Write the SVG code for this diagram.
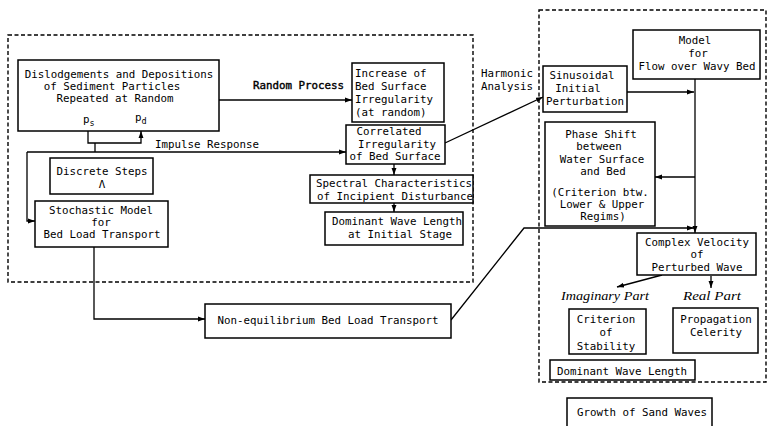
<svg xmlns="http://www.w3.org/2000/svg" width="769" height="426" viewBox="0 0 769 426">
<defs>
<marker id="ah" viewBox="0 0 10 10" refX="10" refY="5" markerWidth="7" markerHeight="7" orient="auto" markerUnits="userSpaceOnUse"><path d="M0,1.5 L10,5 L0,8.5z" fill="#000"/></marker>
<style>
.box{fill:#fff;stroke:#000;stroke-width:1.5}
.dash{fill:none;stroke:#000;stroke-width:1.4;stroke-dasharray:4 2.5}
.c{fill:none;stroke:#000;stroke-width:1.3}
.a{marker-end:url(#ah)}
text{font-family:"DejaVu Sans Mono","Liberation Mono",monospace;font-size:10.8px;fill:#000}
.m{text-anchor:middle}
.it{font-family:"Liberation Serif",serif;font-style:italic;font-size:12.5px}
.b{stroke:#000;stroke-width:0.4}
</style>
</defs>
<rect width="769" height="426" fill="#fff"/>
<g id="regions">
<rect class="dash" x="8" y="35" width="465" height="247"/>
<rect class="dash" x="539" y="10" width="227" height="372"/>
</g>
<g id="connectors">
<path class="c a" d="M219,100 H352"/>
<path class="c a" d="M88,131 V143 H141 V131"/>
<path class="c" d="M95,143 V152"/>
<path class="c a" d="M27,152 H346"/>
<path class="c a" d="M27,152 V221 H35"/>
<path class="c a" d="M394,164 V175"/>
<path class="c a" d="M394,203 V212"/>
<path class="c a" d="M445,143 L543,97"/>
<path class="c a" d="M94,247 V319 H205"/>
<path class="c a" d="M451,320 L524,228 H694"/>
<path class="c a" d="M695,79 V233"/>
<path class="c a" d="M627,92 H694"/>
<path class="c a" d="M695,177 H655"/>
<path class="c a" d="M662,275 L617,287"/>
<path class="c a" d="M711,276 V288"/>
<text x="253" y="89" class="b">Random Process</text>
<text x="155" y="148">Impulse Response</text>
<text x="507" y="77" class="m">Harmonic</text>
<text x="507" y="90" class="m">Analysis</text>
<text x="605" y="300" class="m it" textLength="88" lengthAdjust="spacingAndGlyphs">Imaginary Part</text>
<text x="712" y="300" class="m it" textLength="58" lengthAdjust="spacingAndGlyphs">Real Part</text>
</g>
<g id="dislodgements">
<rect class="box" x="18" y="60" width="201" height="71"/>
<text x="119" y="78" class="m">Dislodgements and Depositions</text>
<text x="112" y="90" class="m">of Sediment Particles</text>
<text x="115" y="102" class="m">Repeated at Random</text>
<text x="83" y="123">p<tspan font-size="8.5px" dy="3">s</tspan></text>
<text x="135" y="121">p<tspan font-size="8.5px" dy="3">d</tspan></text>
</g>
<g id="discrete-steps">
<rect class="box" x="50" y="158" width="103" height="36"/>
<text x="102" y="175" class="m">Discrete Steps</text>
<text x="102" y="188" class="m">Λ</text>
</g>
<g id="stochastic-model">
<rect class="box" x="35" y="201" width="133" height="46"/>
<text x="101" y="214" class="m">Stochastic Model</text>
<text x="101" y="226" class="m">for</text>
<text x="102" y="238" class="m">Bed Load Transport</text>
</g>
<g id="increase">
<rect class="box" x="352" y="63" width="92" height="59"/>
<text x="355" y="77">Increase of</text>
<text x="355" y="90">Bed Surface</text>
<text x="355" y="103">Irregularity</text>
<text x="355" y="116">(at random)</text>
</g>
<g id="correlated">
<rect class="box" x="346" y="125" width="99" height="39"/>
<text x="389" y="135" class="m">Correlated</text>
<text x="397" y="148" class="m">Irregularity</text>
<text x="395" y="160" class="m">of Bed Surface</text>
</g>
<g id="spectral">
<rect class="box" x="310" y="175" width="163" height="28"/>
<text x="394" y="187" class="m">Spectral Characteristics</text>
<text x="395" y="200" class="m">of Incipient Disturbance</text>
</g>
<g id="dominant-initial">
<rect class="box" x="325" y="212" width="138" height="33"/>
<text x="397" y="225" class="m">Dominant Wave Length</text>
<text x="400" y="238" class="m">at Initial Stage</text>
</g>
<g id="non-equilibrium">
<rect class="box" x="205" y="304" width="246" height="34"/>
<text x="328" y="324" class="m">Non-equilibrium Bed Load Transport</text>
</g>
<g id="model-flow">
<rect class="box" x="633" y="30" width="127" height="49"/>
<text x="695" y="44" class="m">Model</text>
<text x="698" y="57" class="m">for</text>
<text x="697" y="70" class="m">Flow over Wavy Bed</text>
</g>
<g id="sinusoidal">
<rect class="box" x="543" y="66" width="84" height="46"/>
<text x="582" y="79" class="m">Sinusoidal</text>
<text x="578" y="92" class="m">Initial</text>
<text x="585" y="105" class="m">Perturbation</text>
</g>
<g id="phase-shift">
<rect class="box" x="545" y="122" width="110" height="104"/>
<text x="601" y="138" class="m">Phase Shift</text>
<text x="599" y="150" class="m">between</text>
<text x="602" y="163" class="m">Water Surface</text>
<text x="603" y="175" class="m">and Bed</text>
<text x="600" y="196" class="m">(Criterion btw.</text>
<text x="602" y="208" class="m">Lower &amp; Upper</text>
<text x="603" y="220" class="m">Regims)</text>
</g>
<g id="complex-velocity">
<rect class="box" x="637" y="233" width="119" height="42"/>
<text x="697" y="246" class="m">Complex Velocity</text>
<text x="697" y="258" class="m">of</text>
<text x="697" y="271" class="m">Perturbed Wave</text>
</g>
<g id="criterion-stability">
<rect class="box" x="569" y="309" width="77" height="45"/>
<text x="606" y="323" class="m">Criterion</text>
<text x="606" y="336" class="m">of</text>
<text x="606" y="350" class="m">Stability</text>
</g>
<g id="propagation">
<rect class="box" x="673" y="308" width="85" height="45"/>
<text x="716" y="323" class="m">Propagation</text>
<text x="716" y="336" class="m">Celerity</text>
</g>
<g id="dominant-wave">
<rect class="box" x="550" y="360" width="145" height="20"/>
<text x="622" y="375" class="m">Dominant Wave Length</text>
</g>
<g id="growth">
<rect class="box" x="567" y="398" width="145" height="40"/>
<text x="642" y="416" class="m">Growth of Sand Waves</text>
</g>
</svg>
